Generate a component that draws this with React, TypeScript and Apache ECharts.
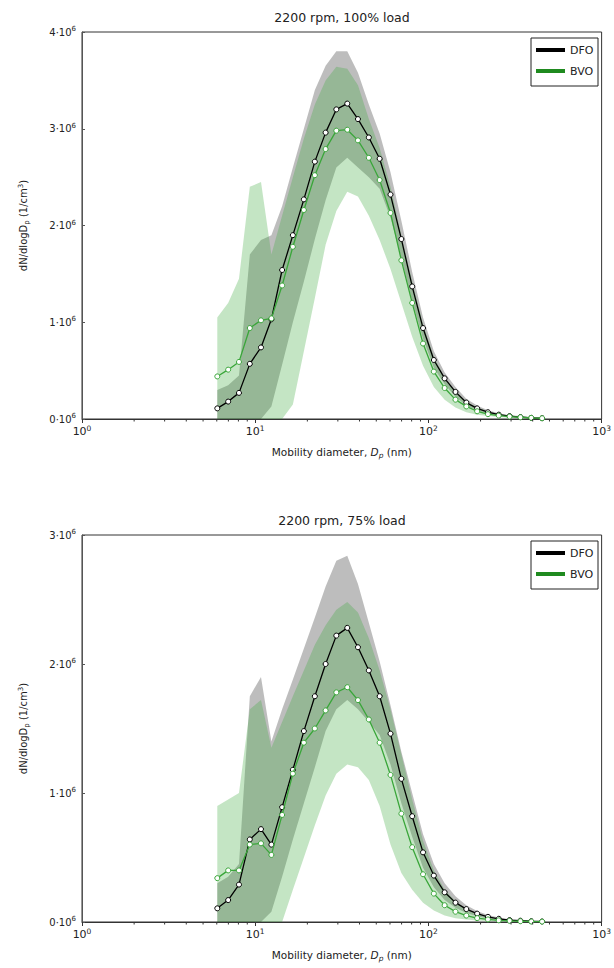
import React, { useEffect, useRef } from "react";
import * as echarts from "echarts";

// Mobility diameter bin centres (nm)
const diameters = [6.04, 6.98, 8.06, 9.31, 10.8, 12.4, 14.3, 16.5, 19.1, 22.1, 25.5, 29.4, 34.0, 39.2, 45.3, 52.3, 60.4, 69.8, 80.6, 93.1, 107.5, 124.1, 143.3, 165.5, 191.1, 220.7, 254.8, 294.3, 339.8, 392.4, 453.2];

// 2200 rpm, 100% load (values in 10^6 1/cm3)
const dfo100Mean = [0.11, 0.18, 0.27, 0.57, 0.74, 1.03, 1.54, 1.90, 2.27, 2.66, 2.96, 3.20, 3.26, 3.10, 2.91, 2.69, 2.32, 1.86, 1.37, 0.94, 0.61, 0.42, 0.28, 0.17, 0.11, 0.07, 0.045, 0.03, 0.02, 0.012, 0.008];
const dfo100Hi = [0.3, 0.35, 0.45, 1.7, 1.85, 1.9, 2.2, 2.6, 3.0, 3.4, 3.65, 3.8, 3.8, 3.58, 3.25, 2.95, 2.55, 2.05, 1.52, 1.05, 0.7, 0.48, 0.33, 0.21, 0.14, 0.09, 0.06, 0.04, 0.03, 0.02, 0.012];
const dfo100Lo = [0, 0, 0, 0, 0, 0.13, 0.56, 1.0, 1.42, 1.86, 2.26, 2.6, 2.7, 2.6, 2.5, 2.38, 2.08, 1.66, 1.22, 0.83, 0.53, 0.36, 0.23, 0.14, 0.09, 0.055, 0.035, 0.022, 0.014, 0.008, 0.005];
const bvo100Mean = [0.44, 0.51, 0.59, 0.94, 1.02, 1.04, 1.38, 1.78, 2.16, 2.52, 2.79, 2.98, 2.99, 2.88, 2.70, 2.47, 2.13, 1.64, 1.20, 0.78, 0.49, 0.32, 0.20, 0.13, 0.08, 0.05, 0.035, 0.025, 0.018, 0.012, 0.008];
const bvo100Hi = [1.05, 1.2, 1.45, 2.4, 2.45, 1.7, 2.1, 2.5, 2.9, 3.25, 3.5, 3.64, 3.62, 3.45, 3.1, 2.8, 2.4, 1.9, 1.42, 0.98, 0.64, 0.43, 0.29, 0.18, 0.12, 0.08, 0.05, 0.035, 0.025, 0.018, 0.012];
const bvo100Lo = [0, 0, 0, 0, 0, 0, 0, 0.15, 0.7, 1.25, 1.8, 2.15, 2.35, 2.3, 2.1, 1.85, 1.55, 1.2, 0.85, 0.55, 0.33, 0.2, 0.12, 0.07, 0.045, 0.03, 0.02, 0.013, 0.009, 0.006, 0.004];

// 2200 rpm, 75% load (values in 10^6 1/cm3)
const dfo75Mean = [0.106, 0.17, 0.29, 0.64, 0.72, 0.60, 0.89, 1.18, 1.48, 1.75, 2.0, 2.22, 2.28, 2.13, 1.95, 1.75, 1.46, 1.11, 0.82, 0.54, 0.36, 0.23, 0.15, 0.10, 0.065, 0.04, 0.025, 0.015, 0.01, 0.006, 0.004];
const dfo75Hi = [0.3, 0.35, 0.45, 1.75, 1.9, 1.4, 1.65, 1.88, 2.12, 2.36, 2.6, 2.8, 2.84, 2.62, 2.32, 2.02, 1.68, 1.32, 1.0, 0.68, 0.45, 0.3, 0.2, 0.13, 0.085, 0.055, 0.035, 0.022, 0.014, 0.009, 0.006];
const dfo75Lo = [0, 0, 0, 0, 0, 0.08, 0.35, 0.64, 0.92, 1.2, 1.48, 1.65, 1.72, 1.65, 1.55, 1.45, 1.22, 0.92, 0.66, 0.42, 0.27, 0.17, 0.11, 0.07, 0.045, 0.028, 0.017, 0.01, 0.006, 0.004, 0.002];
const bvo75Mean = [0.34, 0.40, 0.40, 0.60, 0.61, 0.52, 0.83, 1.15, 1.39, 1.50, 1.64, 1.78, 1.82, 1.72, 1.57, 1.39, 1.14, 0.84, 0.58, 0.37, 0.22, 0.13, 0.08, 0.05, 0.03, 0.02, 0.013, 0.009, 0.006, 0.004, 0.003];
const bvo75Hi = [0.9, 0.95, 1.0, 1.65, 1.72, 1.35, 1.55, 1.75, 1.95, 2.15, 2.3, 2.42, 2.48, 2.4, 2.2, 1.95, 1.65, 1.3, 0.95, 0.63, 0.4, 0.25, 0.16, 0.1, 0.062, 0.04, 0.027, 0.018, 0.012, 0.008, 0.005];
const bvo75Lo = [0, 0, 0, 0, 0, 0, 0, 0.25, 0.5, 0.75, 0.98, 1.15, 1.22, 1.2, 1.1, 0.9, 0.6, 0.38, 0.25, 0.15, 0.09, 0.05, 0.03, 0.02, 0.012, 0.008, 0.005, 0.003, 0.002, 0.001, 0.001];

const panelTitles = ["2200 rpm, 100% load", "2200 rpm, 75% load"];
const panelYMax = [4, 3];
const seriesNames = ["DFO", "BVO"];
const minorTickValues = [2, 3, 4, 5, 6, 7, 8, 9, 20, 30, 40, 50, 60, 70, 80, 90, 200, 300, 400, 500, 600, 700, 800, 900];

const FONT = "DejaVu Sans";
const TXT = "#222";
const GREY_BAND = "rgba(0,0,0,0.26)";
const GREEN_BAND = "rgba(60,170,60,0.3)";
const BLACK = "#000";
const GREEN_LINE = "#3aa63a";
const GREEN_LEGEND = "#1f8a1f";

const GRID_LEFT = 82;
const GRID_W = 520;
const GRID_H = 387;
const GRID_TOPS = [32, 535];

export default function App() {
  const ref = useRef<HTMLDivElement>(null);

  useEffect(() => {
    if (!ref.current) return;
    const chart = echarts.init(ref.current, null, { renderer: "svg" });

    const panels = [
      { mean: [dfo100Mean, bvo100Mean], hi: [dfo100Hi, bvo100Hi], lo: [dfo100Lo, bvo100Lo] },
      { mean: [dfo75Mean, bvo75Mean], hi: [dfo75Hi, bvo75Hi], lo: [dfo75Lo, bvo75Lo] },
    ];

    const grids: any[] = [];
    const xAxes: any[] = [];
    const yAxes: any[] = [];
    const series: any[] = [];
    const graphics: any[] = [];

    panels.forEach((p, pi) => {
      const top = GRID_TOPS[pi];
      grids.push({
        left: GRID_LEFT,
        top,
        width: GRID_W,
        height: GRID_H,
        show: true,
        borderColor: "#333",
        borderWidth: 1,
        backgroundColor: "transparent",
      });
      xAxes.push({
        type: "log",
        logBase: 10,
        gridIndex: pi,
        min: 1,
        max: 1000,
        axisLine: { show: true, onZero: false, lineStyle: { color: "#333", width: 1 } },
        axisTick: { show: true, length: 4, inside: false, lineStyle: { color: "#333" } },
        splitLine: { show: false },
        axisLabel: {
          margin: 5,
          formatter: (v: number) => `{m|10}{e|${Math.round(Math.log10(v))}}`,
          rich: {
            m: { fontSize: 11, fontFamily: FONT, color: TXT, lineHeight: 14 },
            e: { fontSize: 7.5, fontFamily: FONT, color: TXT, lineHeight: 8, verticalAlign: "top" },
          },
        },
        name: "{m|Mobility diameter, }{i|D}{s|p}{m| (nm)}",
        nameLocation: "middle",
        nameGap: 26,
        nameTextStyle: {
          rich: {
            m: { fontSize: 10.5, fontFamily: FONT, color: TXT, lineHeight: 14 },
            i: { fontSize: 10.5, fontFamily: FONT, fontStyle: "italic", color: TXT, lineHeight: 14 },
            s: { fontSize: 7.5, fontFamily: FONT, fontStyle: "italic", color: TXT, lineHeight: 8, verticalAlign: "bottom" },
          },
        },
      });
      yAxes.push({
        type: "value",
        gridIndex: pi,
        min: 0,
        max: panelYMax[pi],
        interval: 1,
        axisLine: { show: true, lineStyle: { color: "#555", width: 1 } },
        axisTick: { show: true, inside: true, length: 3, lineStyle: { color: "#555" } },
        splitLine: { show: false },
        axisLabel: {
          margin: 6,
          formatter: (v: number) => `{m|${v}·10}{e|6}`,
          rich: {
            m: { fontSize: 10, fontFamily: FONT, color: TXT, lineHeight: 13 },
            e: { fontSize: 7, fontFamily: FONT, color: TXT, lineHeight: 7, verticalAlign: "top" },
          },
        },
        name: "{m|dN/dlogD}{s|p}{m| (1/cm}{u|3}{m|)}",
        nameLocation: "middle",
        nameRotate: 90,
        nameGap: 52,
        nameTextStyle: {
          rich: {
            m: { fontSize: 10, fontFamily: FONT, color: TXT, lineHeight: 13 },
            s: { fontSize: 7, fontFamily: FONT, color: TXT, lineHeight: 7, verticalAlign: "bottom" },
            u: { fontSize: 7, fontFamily: FONT, color: TXT, lineHeight: 7, verticalAlign: "top" },
          },
        },
      });

      const bandColors = [GREY_BAND, GREEN_BAND];
      [0, 1].forEach((si) => {
        series.push({
          type: "custom",
          name: `${seriesNames[si]} band ${pi}`,
          xAxisIndex: pi,
          yAxisIndex: pi,
          silent: true,
          clip: true,
          data: diameters.map((d, i) => [d, p.lo[si][i], p.hi[si][i]]),
          encode: { x: 0, y: [1, 2] },
          renderItem: (params: any, api: any) => {
            if (params.dataIndexInside !== 0) return { type: "group", children: [] };
            const n = params.dataInsideLength;
            const upper: number[][] = [];
            const lower: number[][] = [];
            for (let j = 0; j < n; j++) {
              const x = api.value(0, j);
              upper.push(api.coord([x, api.value(2, j)]));
              lower.push(api.coord([x, api.value(1, j)]));
            }
            return {
              type: "polygon",
              shape: { points: upper.concat(lower.reverse()) },
              style: { fill: bandColors[si], stroke: "none" },
            };
          },
          z: 1,
        });
      });

      [0, 1].forEach((si) => {
        const c = si === 0 ? BLACK : GREEN_LINE;
        series.push({
          type: "line",
          name: `${seriesNames[si]} ${pi}`,
          xAxisIndex: pi,
          yAxisIndex: pi,
          symbol: "circle",
          symbolSize: 5,
          showSymbol: true,
          lineStyle: { color: c, width: 1.3 },
          itemStyle: { color: "#fff", borderColor: c, borderWidth: 1 },
          data: diameters.map((d, i) => [d, p.mean[si][i]]),
          z: 3 + si,
        });
      });

      series.push({
        type: "custom",
        name: `minor ticks ${pi}`,
        xAxisIndex: pi,
        yAxisIndex: pi,
        clip: false,
        silent: true,
        data: minorTickValues.map((v) => [v, 0]),
        encode: { x: 0, y: 1 },
        renderItem: (params: any, api: any) => {
          const pt = api.coord([api.value(0), 0]);
          return {
            type: "line",
            shape: { x1: pt[0], y1: pt[1], x2: pt[0], y2: pt[1] + 2.5 },
            style: { stroke: "#333", lineWidth: 1 },
          };
        },
        z: 5,
      });

      graphics.push({
        type: "text",
        x: GRID_LEFT + GRID_W / 2,
        y: top - 15,
        style: {
          text: panelTitles[pi],
          fill: TXT,
          fontSize: 12.5,
          fontFamily: FONT,
          align: "center",
          verticalAlign: "middle",
          textAlign: "center",
          textVerticalAlign: "middle",
        },
      });
      const lx = 531;
      const ly = top + 6;
      graphics.push({
        type: "rect",
        shape: { x: lx, y: ly, width: 67, height: 48 },
        style: { fill: "#fff", stroke: "#222", lineWidth: 1 },
        z: 100,
      });
      [0, 1].forEach((si) => {
        const yy = ly + 12 + si * 21;
        graphics.push({
          type: "line",
          shape: { x1: lx + 5, y1: yy, x2: lx + 34, y2: yy },
          style: { stroke: si === 0 ? BLACK : GREEN_LEGEND, lineWidth: 4 },
          z: 101,
        });
        graphics.push({
          type: "text",
          x: lx + 39,
          y: yy,
          style: {
            text: seriesNames[si],
            fill: TXT,
            fontSize: 11,
            fontFamily: FONT,
            align: "left",
            verticalAlign: "middle",
            textAlign: "left",
            textVerticalAlign: "middle",
          },
          z: 101,
        });
      });
    });

    chart.setOption({
      animation: false,
      backgroundColor: "#fff",
      grid: grids,
      xAxis: xAxes,
      yAxis: yAxes,
      series,
      graphic: { elements: graphics },
    });

    return () => chart.dispose();
  }, []);

  return (
    <div
      ref={ref}
      style={{ position: "absolute", left: 0, top: 0, width: 614, height: 968 }}
    />
  );
}
